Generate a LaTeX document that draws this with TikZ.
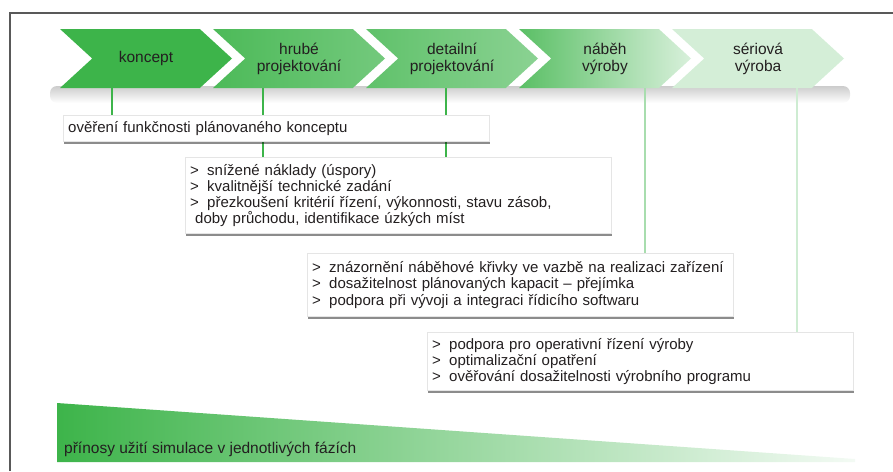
\documentclass[tikz,border=0pt]{standalone}
\usepackage{fontspec}
\setmainfont{Liberation Sans}
\usepackage{xcolor}
\usetikzlibrary{shapes.symbols,shadows}

\definecolor{simgreen}{HTML}{3DB44A}
\definecolor{inkgray}{HTML}{231F20}
\newcommand{\gtitem}{>\hspace{.55em}}

\pgfdeclarelayer{back}
\pgfdeclarelayer{links}
\pgfsetlayers{back,links,main}

\begin{document}
\begin{tikzpicture}[x=1pt, y=-1pt,
  phase/.style={signal, signal to=east, signal from=west, signal pointer angle=85,
    minimum width=172pt, minimum height=59pt, inner sep=0pt, align=center,
    text=inkgray, font=\fontsize{15.5}{17}\selectfont},
  note/.style={draw=black!10, fill=white, anchor=north west, text width=416pt,
    inner xsep=5pt, inner ysep=6pt, align=left, text=inkgray,
    font=\fontsize{15}{16}\selectfont,
    execute at begin node={\hyphenpenalty=10000\relax},
    drop shadow={shadow xshift=1pt, shadow yshift=-2.5pt, opacity=.45, fill=black}},
  link/.style={line width=2pt, draw=simgreen}]
  \useasboundingbox (0,0) rectangle (893,471);

  % Frame (cut at right and bottom)
  \draw[black!65, line width=1.5pt] (10,471) -- (10,13) -- (893,13);

  % Shadow under the phase arrows
  \begin{pgfonlayer}{back}
    \shade[top color=black!20, bottom color=white, rounded corners=7pt] (50,86) rectangle (850,103);
  \end{pgfonlayer}

  % Phase arrows
  \node[phase, fill=simgreen] (p1) at (146,58.5) {koncept};
  \node[phase, left color=simgreen!92, right color=simgreen!72] (p2) at (299,58.5) {hrubé\\projektování};
  \node[phase, left color=simgreen!82, right color=simgreen!60] (p3) at (452,58.5) {detailní\\projektování};
  \node[phase, left color=simgreen!85, right color=simgreen!20] (p4) at (605,58.5) {náběh\\výroby};
  \node[phase, fill=simgreen!22] (p5) at (758,58.5) {sériová\\výroba};

  % Benefit boxes
  \node[note] (b1) at (63,115) {ověření funkčnosti plánovaného konceptu};
  \node[note, inner ysep=7pt] (b2) at (185,157) {\gtitem snížené náklady (úspory)\\
    \gtitem kvalitnější technické zadání\\
    \gtitem přezkoušení kritérií řízení, výkonnosti, stavu zásob,\\
    \hspace{5pt}doby průchodu, identifikace úzkých míst};
  \node[note, inner ysep=8pt, font=\fontsize{15}{16.5}\selectfont] (b3) at (307,253) {\gtitem znázornění náběhové křivky ve vazbě na realizaci zařízení\\
    \gtitem dosažitelnost plánovaných kapacit -- přejímka\\
    \gtitem podpora při vývoji a integraci řídicího softwaru};
  \node[note] (b4) at (427,332) {\gtitem podpora pro operativní řízení výroby\\
    \gtitem optimalizační opatření\\
    \gtitem ověřování dosažitelnosti výrobního programu};

  % Links from phases to boxes
  \begin{pgfonlayer}{links}
    \draw[link] (112,0 |- p1.south) -- (112,0 |- b1.north);
    \draw[link] (263,0 |- p2.south) -- (263,0 |- b2.north);
    \draw[link] (446,0 |- p3.south) -- (446,0 |- b2.north);
    \draw[link, draw=simgreen!45, line width=1.5pt] (645,0 |- p4.south) -- (645,0 |- b3.north);
    \draw[link, draw=simgreen!25, line width=1.5pt] (797,0 |- p5.south) -- (797,0 |- b4.north);
  \end{pgfonlayer}

  % Benefit wedge
  \shade[left color=simgreen, right color=simgreen!6] (57,403) -- (855,459) -- (855,462) -- (57,462) -- cycle;
  \node[anchor=west, inner sep=0pt, text=inkgray, font=\fontsize{15.5}{17}\selectfont] (gain) at (64,449) {přínosy užití simulace v jednotlivých fázích};
\end{tikzpicture}
\end{document}
